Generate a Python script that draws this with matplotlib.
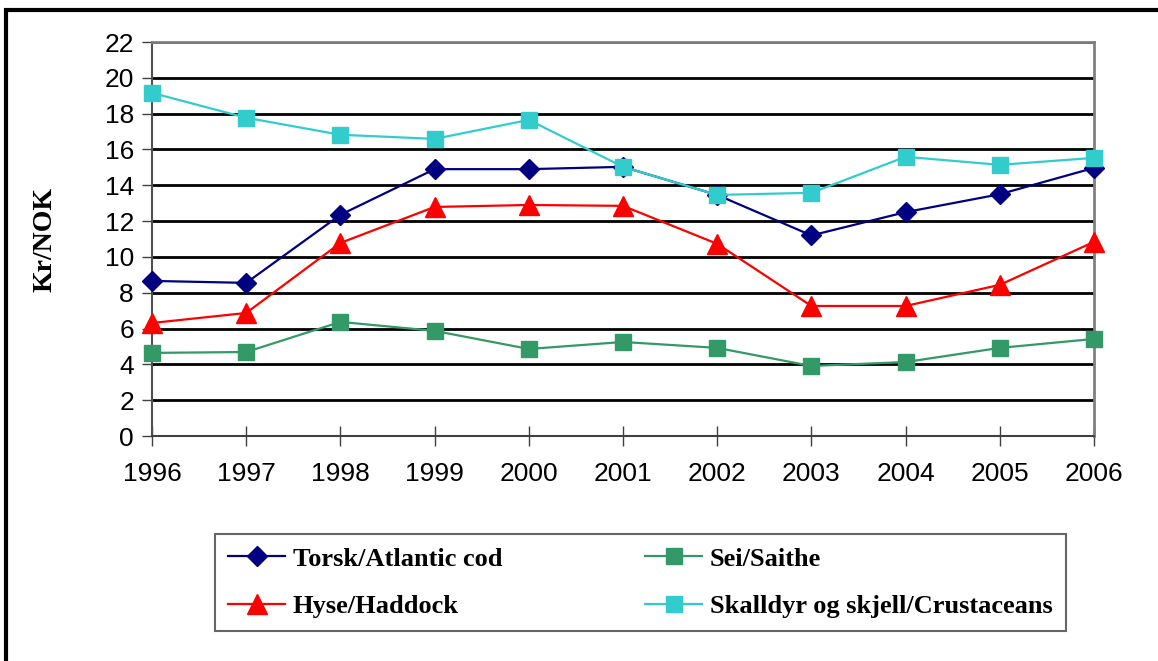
import matplotlib.pyplot as plt
import numpy as np
from matplotlib.patches import Rectangle

years = ['1996', '1997', '1998', '1999', '2000', '2001', '2002', '2003', '2004', '2005', '2006']
torsk = [8.66, 8.55, 12.35, 14.9, 14.9, 15.03, 13.46, 11.2, 12.5, 13.5, 14.97]
sei = [4.64, 4.69, 6.37, 5.87, 4.86, 5.25, 4.92, 3.91, 4.13, 4.92, 5.42]
hyse = [6.31, 6.87, 10.78, 12.79, 12.9, 12.85, 10.73, 7.26, 7.26, 8.44, 10.84]
skalldyr = [19.16, 17.77, 16.82, 16.59, 17.65, 15.03, 13.46, 13.58, 15.59, 15.14, 15.53]

fig = plt.figure(figsize=(11.58, 6.61), dpi=100)
ax = fig.add_axes([152/1158, 1-436/661, (1094-152)/1158, (436-42)/661])

# outer frame
fig.patches.append(Rectangle((6/1158, -0.05), 1.1, (661-10)/661 + 0.05, transform=fig.transFigure,
                             fill=False, edgecolor='black', linewidth=3))

x = np.arange(len(years))
ax.plot(x, torsk, color='#000080', marker='D', ms=10, lw=1.6, label='Torsk/Atlantic cod', clip_on=False, zorder=5)
ax.plot(x, hyse, color='#FF0000', marker='^', ms=14, lw=1.6, label='Hyse/Haddock', clip_on=False, zorder=5)
ax.plot(x, sei, color='#339966', marker='s', ms=12, lw=1.6, label='Sei/Saithe', clip_on=False, zorder=5)
ax.plot(x, skalldyr, color='#33CCCC', marker='s', ms=12, lw=1.6, label='Skalldyr og skjell/Crustaceans', clip_on=False, zorder=5)

ax.set_xlim(0, len(years) - 1)
ax.set_ylim(0, 22)
ax.set_yticks(np.arange(0, 23, 2))
ax.set_xticks(x)
ax.set_xticklabels(years)
ax.yaxis.grid(True, color='black', lw=2)
ax.set_axisbelow(True)
for s in ['top', 'right']:
    ax.spines[s].set_color('#808080')
    ax.spines[s].set_linewidth(2)
ax.spines['left'].set_color('#505050')
ax.spines['left'].set_linewidth(1.5)
ax.spines['bottom'].set_color('#404040')
ax.spines['bottom'].set_linewidth(1.5)
ax.tick_params(axis='y', direction='out', length=7, width=1, color='#404040', labelsize=19, pad=6)
ax.tick_params(axis='x', direction='inout', length=14, width=1, color='#404040', labelsize=19, pad=12)
for lab in ax.get_xticklabels() + ax.get_yticklabels():
    lab.set_family('Liberation Sans')

ax.set_ylabel('Kr/NOK', fontfamily='Liberation Serif', fontweight='bold', fontsize=20, labelpad=34)

leg = fig.legend(loc='center', bbox_to_anchor=(215/1158, 1-632/661, 851/1158, 99/661), mode='expand', ncol=2,
                 prop={'family': 'Liberation Serif', 'weight': 'bold', 'size': 19},
                 frameon=True, fancybox=False, edgecolor='#404040', borderaxespad=0,
                 handlelength=2.15, handletextpad=0.3, labelspacing=0.9, borderpad=0.5)
leg.get_frame().set_linewidth(1.5)

fig.savefig('out.png', dpi=100)
